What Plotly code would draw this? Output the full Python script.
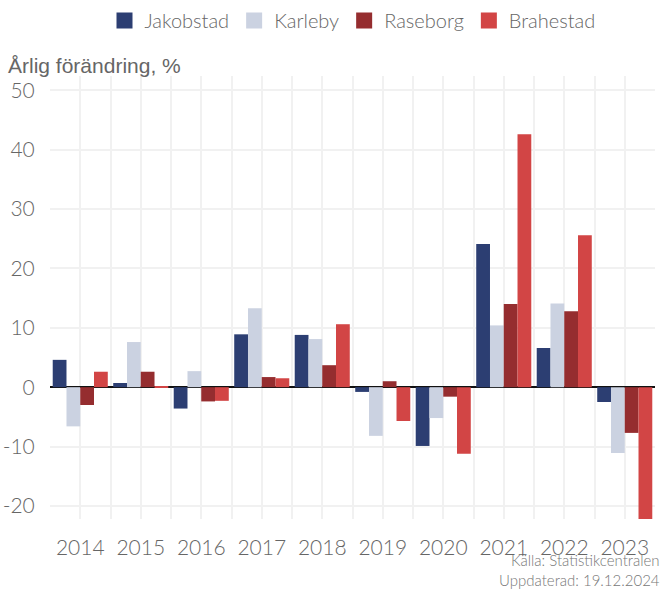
import plotly.graph_objects as go

years = ["2014", "2015", "2016", "2017", "2018", "2019", "2020", "2021", "2022", "2023"]
jakobstad = [4.6, 0.7, -3.6, 8.9, 8.8, -0.8, -9.9, 24.1, 6.6, -2.5]
karleby = [-6.6, 7.6, 2.7, 13.3, 8.1, -8.2, -5.2, 10.4, 14.1, -11.1]
raseborg = [-3.0, 2.6, -2.4, 1.7, 3.7, 1.0, -1.6, 14.0, 12.8, -7.7]
brahestad = [2.6, 0.2, -2.3, 1.5, 10.6, -5.7, -11.2, 42.6, 25.6, -24.0]
y_ticks = [-20, -10, 0, 10, 20, 30, 40, 50]
y_ticktext = ["-20", "-10", "0", "10", "20", "30", "40", "50"]

series = [
    ("Jakobstad", jakobstad, "#2c3e72"),
    ("Karleby", karleby, "#cbd2e1"),
    ("Raseborg", raseborg, "#952d2f"),
    ("Brahestad", brahestad, "#d24545"),
]

W, H = 661, 590
ML, MR, MT, MB = 50, 6, 76, 71
plot_w = W - ML - MR
plot_h = H - MT - MB


def px_x(px):
    return (px - ML) / plot_w


def px_y(py):
    return (H - MB - py) / plot_h


xpos = list(range(len(years)))
fig = go.Figure()
for name, vals, col in series:
    fig.add_trace(go.Bar(x=xpos, y=vals, name=name, showlegend=False,
                         marker=dict(color=col, line=dict(width=0))))
# legend entries with larger square symbols
for name, vals, col in series:
    fig.add_trace(go.Scatter(x=[None], y=[None], mode="markers", name=name,
                             marker=dict(symbol="square", size=17, color=col)))

grid = "#f1f1f1"
fig.update_layout(
    width=W, height=H,
    margin=dict(l=ML, r=MR, t=MT, b=MB, autoexpand=False),
    paper_bgcolor="white", plot_bgcolor="white",
    barmode="group", bargap=0.09, bargroupgap=0,
    font=dict(family="Lato", color="#666666"),
    legend=dict(orientation="h", x=0.5, xanchor="center", y=px_y(1), yanchor="top",
                font=dict(size=20, color="#666666", weight=300), traceorder="normal",
                itemsizing="trace"),
    xaxis=dict(range=[-0.5, len(years) - 0.5], tickvals=xpos, ticktext=years,
               showgrid=True, gridcolor=grid, gridwidth=2, zeroline=False, automargin=False,
               ticks="outside", ticklen=10, tickcolor="rgba(0,0,0,0)",
               tickfont=dict(size=21, color="#666666", weight=300),
               minor=dict(tickvals=[i - 0.5 for i in range(len(years) + 1)], showgrid=True,
                          gridcolor=grid, gridwidth=2, ticks="")),
    yaxis=dict(range=[-22.2, 52.4], tickvals=y_ticks, ticktext=y_ticktext,
               showgrid=True, gridcolor=grid, gridwidth=2, automargin=False,
               zeroline=True, zerolinecolor="#111111", zerolinewidth=1.5,
               ticks="outside", ticklen=10, tickcolor="rgba(0,0,0,0)",
               tickfont=dict(size=21, color="#666666", weight=300)),
    annotations=[
        dict(text="Årlig förändring, %", x=px_x(6), xref="paper", y=px_y(66), yref="paper",
             xanchor="left", yanchor="middle", showarrow=False,
             font=dict(size=21, color="#666666", family="Liberation Sans")),
        dict(text="Källa: Statistikcentralen<br>Uppdaterad: 19.12.2024", x=px_x(661), xref="paper",
             y=px_y(590), yref="paper", xanchor="right", yanchor="bottom", align="right",
             showarrow=False, borderpad=0,
             font=dict(size=15, color="#777777", weight=300)),
    ],
)
fig.write_html("out.html", config={"displayModeBar": False},
               post_script="document.body.style.margin='0';document.body.style.overflow='hidden';")
